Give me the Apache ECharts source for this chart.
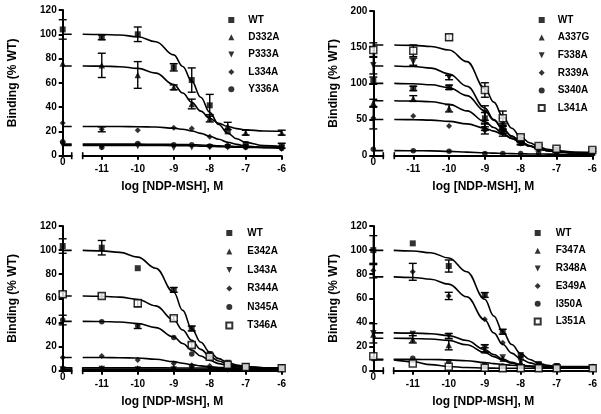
<!DOCTYPE html>
<html><head><meta charset="utf-8">
<script src="https://cdn.jsdelivr.net/npm/echarts@6/dist/echarts.min.js"></script>
<style>html,body{margin:0;padding:0;background:#fff}#c{width:601px;height:414px}</style>
</head><body><div id="c"></div>
<script>
// ---- shared x values ----
const doses = [-11, -10, -9, -8.5, -8, -7.5, -7, -6];           // log [NDP-MSH] of the data points
const fitX = [-11.53, -11, -10.5, -10, -9.5, -9, -8.75, -8.5, -8.25, -8, -7.75, -7.5, -7.25, -7, -6.5, -6];
const xTicks = [-11, -10, -9, -8, -7, -6];

// ---- panel 1 ----
const p1Names = ['WT', 'D332A', 'P333A', 'L334A', 'Y336A'];
// first value = control (0), then one value per dose
const p1WT    = [104, 97.5, 100, 72.8, 62.3, 41.5, 20, 9.6, 8.2];
const p1D332A = [76, 74.4, 66.5, 56.3, 42.6, 30.8, 24.5, 19, 19];
const p1P333A = [9, 7, 8, 6.5, 7, 7, 7, 7, 6];
const p1L334A = [27, 21.7, 21, 23, 22.5, 15.7, 8.8, 7, 6];
const p1Y336A = [11.5, 6.9, 10, 9, 9, 8, 7.5, 7, 6];
const p1WTerr    = [8, 2, 6, 3, 10, 9, 0, 0, 2];
const p1D332Aerr = [0, 10, 11, 2, 4, 3, 3, 2, 2];
const p1P333Aerr = [0, 0, 0, 0, 0, 0, 0, 0, 0];
const p1L334Aerr = [0, 2, 0, 0, 0, 0, 0, 0, 0];
const p1Y336Aerr = [0, 0, 0, 0, 0, 0, 0, 0, 0];
const p1WTfit    = [100, 99.8, 99.4, 98.0, 93.9, 83.0, 73.5, 61.4, 48.2, 35.7, 25.7, 18.5, 13.9, 11.0, 8.3, 7.4];
const p1D332Afit = [73.9, 73.8, 73.3, 71.9, 68.0, 58.6, 51.6, 43.9, 36.7, 30.9, 26.7, 24.0, 22.3, 21.3, 20.4, 20.1];
const p1P333Afit = [8.5, 8.5, 8.5, 8.4, 8.4, 8.3, 8.2, 8.1, 7.9, 7.7, 7.5, 7.2, 7.0, 6.8, 6.6, 6.5];
const p1L334Afit = [24.0, 24.0, 24.0, 23.9, 23.6, 22.7, 21.8, 20.4, 18.4, 16.0, 13.5, 11.1, 9.3, 8.0, 6.7, 6.2];
const p1Y336Afit = [9.5, 9.5, 9.5, 9.5, 9.4, 9.3, 9.2, 9.0, 8.8, 8.5, 8.2, 7.9, 7.6, 7.4, 7.1, 7.0];

// ---- panel 2 ----
const p2Names = ['WT', 'A337G', 'F338A', 'R339A', 'S340A', 'L341A'];
const p2WT    = [103.7, 93, 94.5, 51.7, 39, 21.7, 12.4, 7.9, 5];
const p2A337G = [73, 79, 65.5, 40, 35.5, 18, 10, 6, 4];
const p2F338A = [125, 130, 108, 59, 43.8, 17, 12, 8, 6];
const p2R339A = [52, 54.9, 41, 35, 32, 18, 9, 6, 4];
const p2S340A = [8.8, 7, 6, 3, 3, 3, 3, 3, 3];
const p2L341A = [146, 145, 163.6, 90.8, 51.7, 25.4, 13.4, 9.7, 7.9];
const p2WTerr    = [5, 3, 3, 8, 5, 3, 0, 0, 0];
const p2A337Gerr = [5, 4, 5, 5, 5, 2, 0, 0, 0];
const p2F338Aerr = [12, 5, 3, 10, 8, 2, 0, 0, 0];
const p2R339Aerr = [15, 0, 0, 5, 5, 0, 0, 0, 0];
const p2S340Aerr = [0, 0, 0, 0, 0, 0, 0, 0, 0];
const p2L341Aerr = [10, 8, 4, 10, 10, 3, 2, 2, 2];
const p2WTfit    = [100, 99.4, 98, 94, 83, 62, 49, 37, 27, 19.5, 13.5, 9.5, 7, 5.5, 4, 3.4];
const p2A337Gfit = [76, 75.6, 74.5, 71, 62, 47, 39, 31, 24, 18, 13, 9.5, 7, 5.5, 4, 3.4];
const p2F338Afit = [124, 123.3, 121, 113, 96, 66, 50, 37, 27, 19.5, 13.5, 9.5, 7, 5.5, 4, 3.4];
const p2R339Afit = [50, 49.8, 49.2, 47.5, 44, 38, 34, 29.5, 24, 19, 14, 10, 7.5, 5.8, 4, 3.4];
const p2S340Afit = [7, 6.9, 6.6, 6.0, 5.0, 4.0, 3.5, 3.1, 2.8, 2.6, 2.4, 2.3, 2.2, 2.1, 2.0, 2.0];
const p2L341Afit = [153, 152.5, 151, 146, 130, 93, 74, 54, 38, 26, 18, 12.5, 9, 7, 5, 4.4];

// ---- panel 3 ----
const p3Names = ['WT', 'E342A', 'L343A', 'R344A', 'N345A', 'T346A'];
const p3WT    = [103.4, 102, 85, 67, 35, 13.8, 6.6, 3.9, 3];
const p3E342A = [3, 2, 2, 2.5, 2, 2, 2, 2, 2];
const p3L343A = [1, 1.5, 1, 1, 1.5, 1, 1, 1, 1];
const p3R344A = [11, 12.2, 8.9, 6, 4.6, 3.8, 3, 3, 3];
const p3N345A = [42, 40.6, 37, 27.6, 13.8, 11, 6, 3, 2];
const p3T346A = [63.3, 62, 56, 43.4, 21.3, 11.6, 5, 3, 2];
const p3WTerr    = [6, 6, 0, 2, 2, 0, 0, 0, 0];
const p3E342Aerr = [0, 0, 0, 0, 0, 0, 0, 0, 0];
const p3L343Aerr = [0, 0, 0, 0, 0, 0, 0, 0, 0];
const p3R344Aerr = [0, 0, 0, 0, 0, 0, 0, 0, 0];
const p3N345Aerr = [4, 0, 2, 0, 0, 0, 0, 0, 0];
const p3T346Aerr = [2, 2, 3, 2, 2, 0, 0, 0, 0];
const p3WTfit    = [99.8, 99.4, 98.1, 94.2, 85, 65, 50, 34.7, 23.6, 15.4, 10.0, 6.7, 4.7, 3.5, 2.5, 2.2];
const p3E342Afit = [2.5, 2.5, 2.5, 2.4, 2.4, 2.3, 2.3, 2.2, 2.2, 2.2, 2.1, 2.1, 2.1, 2.0, 2.0, 2.0];
const p3L343Afit = [1.3, 1.3, 1.3, 1.3, 1.3, 1.2, 1.2, 1.2, 1.2, 1.2, 1.2, 1.1, 1.1, 1.1, 1.1, 1.1];
const p3R344Afit = [11, 10.9, 10.8, 10.5, 9.5, 7.5, 6.2, 5.0, 4.0, 3.2, 2.7, 2.4, 2.25, 2.1, 2.05, 2.0];
const p3N345Afit = [40.9, 40.8, 40.4, 39.1, 35.7, 28.0, 22.6, 17.1, 12.2, 8.5, 5.9, 4.3, 3.3, 2.8, 2.2, 2.1];
const p3T346Afit = [61.9, 61.7, 61.0, 59.1, 53.8, 42.0, 33.7, 25.2, 17.7, 12.0, 8.1, 5.5, 4.0, 3.2, 2.4, 2.1];

// ---- panel 4 ----
const p4Names = ['WT', 'F347A', 'R348A', 'E349A', 'I350A', 'L351A'];
const p4WT    = [100, 105.6, 86.8, 62.8, 32.3, 13, 5.6, 3.9, 3];
const p4F347A = [30, 26, 21.3, 17, 10, 7, 4, 3, 2];
const p4R348A = [31, 30.4, 28.8, 18.6, 11, 7.5, 4.6, 3, 2];
const p4E349A = [83, 82, 62, 42.6, 23.2, 11.6, 5, 3, 2];
const p4I350A = [10, 10.3, 7.5, 5, 4, 4, 4, 4, 3.5];
const p4L351A = [12, 6, 3.3, 2.5, 2, 2, 2, 2, 2];
const p4WTerr    = [12, 0, 5, 2, 2, 0, 0, 0, 0];
const p4F347Aerr = [0, 3, 4, 2, 0, 0, 0, 0, 0];
const p4R348Aerr = [8, 0, 2, 3, 0, 0, 0, 0, 0];
const p4E349Aerr = [6, 7, 3, 0, 0, 0, 0, 0, 0];
const p4I350Aerr = [0, 0, 0, 0, 0, 0, 0, 0, 0];
const p4L351Aerr = [0, 0, 0, 0, 0, 0, 0, 0, 0];
const p4WTfit    = [99.8, 99.3, 97.8, 93.5, 82.1, 59.3, 45.4, 32.3, 21.7, 14.2, 9.3, 6.2, 4.4, 3.4, 2.4, 2.2];
const p4F347Afit = [26.9, 26.8, 26.3, 25.0, 21.5, 15.2, 11.7, 8.6, 6.2, 4.5, 3.5, 2.9, 2.5, 2.3, 2.1, 2.0];
const p4R348Afit = [31.4, 31.2, 30.7, 29.1, 25.0, 17.6, 13.4, 9.7, 6.9, 5.0, 3.7, 3.0, 2.6, 2.3, 2.1, 2.0];
const p4E349Afit = [77.8, 77.3, 75.9, 71.8, 61.3, 42.2, 31.4, 21.9, 14.6, 9.7, 6.5, 4.6, 3.5, 2.8, 2.3, 2.1];
const p4I350Afit = [9.5, 9.4, 9.3, 9.0, 8.2, 6.8, 5.9, 5.1, 4.5, 4.1, 3.8, 3.7, 3.6, 3.5, 3.5, 3.5];
const p4L351Afit = [9, 7.5, 5, 3.5, 2.6, 2.2, 2.1, 2.0, 2.0, 2.0, 2.0, 2.0, 2.0, 2.0, 2.0, 2.0];

// ---- y axis settings ----
const yMax = [120, 200, 120, 120];
const yInterval = [20, 50, 20, 20];

// ---------------- build -----------------
const FONT = '"Liberation Sans", Arial, Helvetica, sans-serif';
const DOWN = 'path://M0,0L10,0L5,10Z';
const symbolsFor = n => ['rect', 'triangle', DOWN, 'diamond', 'circle', 'rect'].slice(0, n);
const symbolSize = {'rect': 6, 'triangle': 6.5, [DOWN]: 6.5, 'diamond': 6, 'circle': 5.5};

const panels = [
  {names: p1Names, pts: [p1WT, p1D332A, p1P333A, p1L334A, p1Y336A],
   err: [p1WTerr, p1D332Aerr, p1P333Aerr, p1L334Aerr, p1Y336Aerr],
   fit: [p1WTfit, p1D332Afit, p1P333Afit, p1L334Afit, p1Y336Afit],
   yLeft: 62.7, top: 10, height: 145.7, mainLeft: 82.7, mainW: 199, smallW: 9, yGap: 44,
   legLeft: 228.3, legTop: 15, legGap: 7.3, legPad: 9},
  {names: p2Names, pts: [p2WT, p2A337G, p2F338A, p2R339A, p2S340A, p2L341A],
   err: [p2WTerr, p2A337Gerr, p2F338Aerr, p2R339Aerr, p2S340Aerr, p2L341Aerr],
   fit: [p2WTfit, p2A337Gfit, p2F338Afit, p2R339Afit, p2S340Afit, p2L341Afit],
   yLeft: 373.3, top: 11, height: 144.7, mainLeft: 394.3, mainW: 198, smallW: 10, yGap: 34,
   legLeft: 537.7, legTop: 15, legGap: 7.6, legPad: 8},
  {names: p3Names, pts: [p3WT, p3E342A, p3L343A, p3R344A, p3N345A, p3T346A],
   err: [p3WTerr, p3E342Aerr, p3L343Aerr, p3R344Aerr, p3N345Aerr, p3T346Aerr],
   fit: [p3WTfit, p3E342Afit, p3L343Afit, p3R344Afit, p3N345Afit, p3T346Afit],
   yLeft: 62.7, top: 226, height: 144.7, mainLeft: 82.7, mainW: 199, smallW: 9, yGap: 44,
   legLeft: 225.3, legTop: 228, legGap: 8.5, legPad: 10},
  {names: p4Names, pts: [p4WT, p4F347A, p4R348A, p4E349A, p4I350A, p4L351A],
   err: [p4WTerr, p4F347Aerr, p4R348Aerr, p4E349Aerr, p4I350Aerr, p4L351Aerr],
   fit: [p4WTfit, p4F347Afit, p4R348Afit, p4E349Afit, p4I350Afit, p4L351Afit],
   yLeft: 373.3, top: 226, height: 144.7, mainLeft: 393.7, mainW: 199, smallW: 10, yGap: 34,
   legLeft: 533.7, legTop: 228, legGap: 7.7, legPad: 10}
];

const axisColor = '#000';
const grid = [], xAxis = [], yAxis = [], series = [], legend = [];

function errRender(params, api) {
  const x = api.value(0), y = api.value(1), e = api.value(2);
  if (!e) return null;
  const t = api.coord([x, y + e]), b = api.coord([x, y - e]);
  const w = 4, st = {stroke: '#000', lineWidth: 1.4};
  return {type: 'group', children: [
    {type: 'line', shape: {x1: t[0], y1: t[1], x2: b[0], y2: b[1]}, style: st},
    {type: 'line', shape: {x1: t[0] - w, y1: t[1], x2: t[0] + w, y2: t[1]}, style: st},
    {type: 'line', shape: {x1: b[0] - w, y1: b[1], x2: b[0] + w, y2: b[1]}, style: st}
  ]};
}

panels.forEach((p, i) => {
  const gs = 2 * i, gm = 2 * i + 1;
  grid.push({left: p.yLeft, top: p.top, width: p.smallW, height: p.height});
  grid.push({left: p.mainLeft, top: p.top, width: p.mainW, height: p.height});
  const labelStyle = {fontFamily: FONT, fontWeight: 'bold', fontSize: 10, color: '#000'};
  // small (control) x axis
  xAxis.push({gridIndex: gs, type: 'value', min: 0, max: 1, interval: 1,
    axisLine: {show: true, lineStyle: {color: axisColor, width: 2}, symbol: ['none', 'rect'], symbolSize: [7, 1.6]},
    axisTick: {show: false}, splitLine: {show: false},
    axisLabel: Object.assign({margin: 2, formatter: v => v === 0 ? '0' : ''}, labelStyle)});
  // main x axis
  xAxis.push({gridIndex: gm, type: 'value', min: fitX[0], max: -6,
    axisLine: {show: true, lineStyle: {color: axisColor, width: 2}, symbol: ['rect', 'none'], symbolSize: [7, 1.6]},
    axisTick: {show: true, length: 4, lineStyle: {width: 2, color: axisColor}, customValues: xTicks},
    axisLabel: Object.assign({margin: 9, customValues: xTicks}, labelStyle),
    splitLine: {show: false},
    name: 'log [NDP-MSH], M', nameLocation: 'middle', nameGap: 25,
    nameTextStyle: {fontFamily: FONT, fontWeight: 'bold', fontSize: 12, color: '#000', padding: [0, 20, 0, 0]}});
  yAxis.push({gridIndex: gs, type: 'value', min: 0, max: yMax[i], interval: yInterval[i],
    axisLine: {show: true, lineStyle: {color: axisColor, width: 2}},
    axisTick: {show: true, length: 4, lineStyle: {width: 2, color: axisColor}},
    axisLabel: Object.assign({margin: 6}, labelStyle), splitLine: {show: false},
    name: 'Binding (% WT)', nameLocation: 'middle', nameGap: p.yGap, nameRotate: 90,
    nameTextStyle: {fontFamily: FONT, fontWeight: 'bold', fontSize: 12, color: '#000'}});
  yAxis.push({gridIndex: gm, type: 'value', min: 0, max: yMax[i], show: false, splitLine: {show: false}});

  const syms = symbolsFor(p.names.length);
  const legendData = [];
  p.names.forEach((name, j) => {
    const sym = syms[j];
    const open = j === 5;
    const itemStyle = open ? {color: '#fff', borderColor: '#000', borderWidth: 1.5} : {color: '#000'};
    const size = open ? 7 : symbolSize[sym];
    legendData.push({name: name, icon: sym});
    // fitted curve
    series.push({type: 'line', name: name + ' fit', xAxisIndex: gm, yAxisIndex: gm, silent: true,
      data: fitX.map((x, k) => [x, p.fit[j][k]]), smooth: 0.4, smoothMonotone: 'x',
      showSymbol: false, symbol: 'none', lineStyle: {color: '#000', width: 1.6}, z: 2});
    // fitted plateau across the axis break
    series.push({type: 'line', name: name + ' fit0', xAxisIndex: gs, yAxisIndex: gs, silent: true,
      data: [[0, p.fit[j][0]], [1, p.fit[j][0]]], showSymbol: false, symbol: 'none',
      lineStyle: {color: '#000', width: 1.6}, z: 2});
    // error bars
    series.push({type: 'custom', name: name + ' err', xAxisIndex: gm, yAxisIndex: gm, silent: true,
      renderItem: errRender, encode: {x: 0, y: 1},
      data: doses.map((x, k) => [x, p.pts[j][k + 1], p.err[j][k + 1]]), z: 3});
    series.push({type: 'custom', name: name + ' err0', xAxisIndex: gs, yAxisIndex: gs, silent: true,
      renderItem: errRender, encode: {x: 0, y: 1},
      data: [[0, p.pts[j][0], p.err[j][0]]], z: 3});
    // points
    series.push({type: 'scatter', name: name, xAxisIndex: gm, yAxisIndex: gm, silent: true,
      symbol: sym, symbolSize: size, itemStyle: itemStyle, z: 4,
      data: doses.map((x, k) => [x, p.pts[j][k + 1]])});
    series.push({type: 'scatter', name: name, xAxisIndex: gs, yAxisIndex: gs, silent: true,
      symbol: sym, symbolSize: size, itemStyle: itemStyle, z: 4,
      data: [[0, p.pts[j][0]]]});
  });
  legend.push({data: legendData, orient: 'vertical', left: p.legLeft, top: p.legTop,
    itemWidth: 6, itemHeight: 6, itemGap: p.legGap, selectedMode: false, padding: 0,
    textStyle: {fontFamily: FONT, fontWeight: 'bold', fontSize: 10, color: '#000', padding: [0, 0, 0, p.legPad]}});
});

const chart = echarts.init(document.getElementById('c'), null, {renderer: 'canvas'});
chart.setOption({animation: false, backgroundColor: '#fff', grid, xAxis, yAxis, series, legend});
</script></body></html>
